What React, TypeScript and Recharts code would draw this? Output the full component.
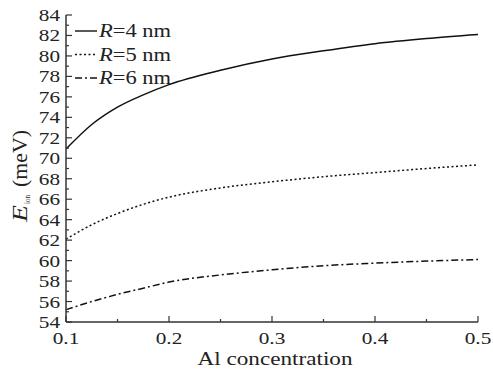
import React from 'react';
import { LineChart, Line, XAxis, YAxis, Legend } from 'recharts';

const alConc = [0.1, 0.125, 0.15, 0.175, 0.2, 0.25, 0.3, 0.35, 0.4, 0.45, 0.5];
const r4 = [70.9, 73.3, 75.0, 76.2, 77.2, 78.6, 79.7, 80.5, 81.2, 81.7, 82.1];
const r5 = [62.1, 63.5, 64.6, 65.5, 66.2, 67.1, 67.7, 68.2, 68.6, 69.0, 69.35];
const r6 = [55.2, 56.0, 56.7, 57.3, 57.9, 58.6, 59.1, 59.5, 59.75, 59.95, 60.1];

const xTicks = [0.1, 0.15, 0.2, 0.25, 0.3, 0.35, 0.4, 0.45, 0.5];
const yTicks = Array.from({ length: 31 }, (_, i) => 54 + i);

const seriesNames = ['4', '5', '6'];
const seriesKeys = ['r4', 'r5', 'r6'];
const seriesDash = ['', '2 2.5', '7 3 2 3'];

const data = alConc.map((x, i) => ({ x, r4: r4[i], r5: r5[i], r6: r6[i] }));

const AX = '#333';
const FONT = "'Liberation Serif', 'DejaVu Serif', serif";
const SX = 1.25;
const txt = { fontFamily: FONT };

const isMajorX = (v: number) => Math.abs(v * 10 - Math.round(v * 10)) < 1e-6;
const isMajorY = (v: number) => Math.round(v) % 2 === 0;

const BottomTick = (props: any) => {
  const { x, y, payload } = props;
  const v = payload.value;
  const major = isMajorX(v);
  return (
    <g>
      <line x1={x} x2={x} y1={y} y2={y - (major ? 6 : 3)} stroke={AX} strokeWidth={1.2} />
      {major && (
        <text transform={`translate(${x},${y + 22}) scale(${SX},1)`} textAnchor="middle" style={txt} fontSize={17} fill="#222">
          {v.toFixed(1)}
        </text>
      )}
    </g>
  );
};

const TopTick = (props: any) => {
  const { x, y, payload } = props;
  const major = isMajorX(payload.value);
  return <line x1={x} x2={x} y1={y} y2={y + (major ? 6 : 3)} stroke={AX} strokeWidth={1.2} />;
};

const LeftTick = (props: any) => {
  const { x, y, payload } = props;
  const v = payload.value;
  const major = isMajorY(v);
  return (
    <g>
      <line x1={x} x2={x + (major ? 6 : 3)} y1={y} y2={y} stroke={AX} strokeWidth={1.2} />
      {major && (
        <text transform={`translate(${x - 6},${y + 6}) scale(${SX},1)`} textAnchor="end" style={txt} fontSize={17} fill="#222">
          {String(v)}
        </text>
      )}
    </g>
  );
};

const RightTick = (props: any) => {
  const { x, y, payload } = props;
  const major = isMajorY(payload.value);
  return <line x1={x} x2={x - (major ? 6 : 3)} y1={y} y2={y} stroke={AX} strokeWidth={1.2} />;
};

const XLabel = (props: any) => {
  const vb = props.viewBox || {};
  const cx = vb.x + vb.width / 2;
  return (
    <text transform={`translate(${cx + 3},365)`} textAnchor="middle" style={txt} fontSize={18} fill="#222"
      textLength={155} lengthAdjust="spacingAndGlyphs">
      Al concentration
    </text>
  );
};

const YLabel = () => (
  <g transform="translate(27,222) rotate(-90)">
    <text x={0} y={0} style={txt} fontSize={21} fontStyle="italic" fill="#222" textLength={17} lengthAdjust="spacingAndGlyphs">E</text>
    <text x={18} y={3} style={txt} fontSize={8} fill="#222" textLength={9} lengthAdjust="spacingAndGlyphs">ion</text>
    <text x={35} y={0} style={txt} fontSize={21} fill="#222" textLength={57} lengthAdjust="spacingAndGlyphs">(meV)</text>
  </g>
);

const LegendContent = () => (
  <svg width={130} height={70} style={{ display: 'block' }}>
    {seriesNames.map((n, i) => (
      <g key={n}>
        <line x1={2} x2={24} y1={10 + i * 23.5} y2={10 + i * 23.5} stroke="#111" strokeWidth={1.4} strokeDasharray={seriesDash[i] || undefined} />
        <text transform={`translate(26,${16 + i * 23.5}) scale(${SX},1)`} style={txt} fontSize={18} fill="#222">
          <tspan fontStyle="italic">R</tspan>
          <tspan>{`=${n} nm`}</tspan>
        </text>
      </g>
    ))}
  </svg>
);

export default function App() {
  return (
    <div style={{ position: 'absolute', left: 0, top: 0, fontFamily: FONT }}>
      <LineChart width={493} height={372} data={data} margin={{ top: 15, right: 15, bottom: 0, left: 0 }}>
        <XAxis xAxisId="b" dataKey="x" type="number" domain={[0.1, 0.5]} ticks={xTicks} tickSize={0} tickMargin={0}
          tick={<BottomTick />} tickLine={false} axisLine={{ stroke: AX, strokeWidth: 1.5 }} height={50} interval={0}
          label={<XLabel />} allowDataOverflow />
        <XAxis xAxisId="t" dataKey="x" type="number" orientation="top" domain={[0.1, 0.5]} ticks={xTicks} tickSize={0} tickMargin={0}
          tick={<TopTick />} tickLine={false} axisLine={{ stroke: AX, strokeWidth: 1.5 }} height={0} interval={0} allowDataOverflow />
        <YAxis yAxisId="l" type="number" domain={[54, 84]} ticks={yTicks} tickSize={0} tickMargin={0}
          tick={<LeftTick />} tickLine={false} axisLine={{ stroke: AX, strokeWidth: 1.5 }} width={66} interval={0}
          label={<YLabel />} allowDataOverflow />
        <YAxis yAxisId="r" type="number" orientation="right" domain={[54, 84]} ticks={yTicks} tickSize={0} tickMargin={0}
          tick={<RightTick />} tickLine={false} axisLine={{ stroke: AX, strokeWidth: 1.5 }} width={0} interval={0} allowDataOverflow />
        {seriesKeys.map((k, i) => (
          <Line key={k} xAxisId="b" yAxisId="l" dataKey={k} name={`R=${seriesNames[i]} nm`} type="monotone" stroke="#111"
            strokeWidth={1.5} strokeDasharray={seriesDash[i] || undefined} dot={false} isAnimationActive={false} />
        ))}
        <Legend layout="vertical" align="center" verticalAlign="middle" content={<LegendContent />}
          wrapperStyle={{ position: 'absolute', left: 73, top: 21, width: 130, height: 70 }} />
      </LineChart>
    </div>
  );
}
